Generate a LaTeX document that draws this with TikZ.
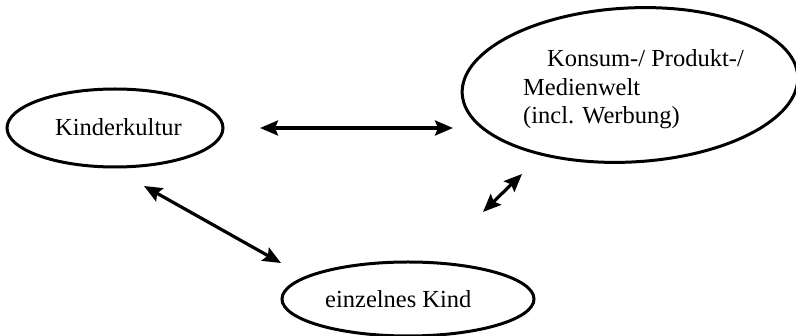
\documentclass[tikz,border=0pt]{standalone}
\usepackage{fontspec}
\setmainfont{Liberation Serif}
\usetikzlibrary{shapes.geometric,arrows.meta}
\begin{document}
\begin{tikzpicture}[x=1pt,y=-1pt,
  ell/.style={draw,ellipse,line width=3pt,inner sep=0pt},
  lbl/.style={anchor=base west,inner sep=0pt,font=\fontsize{24.5}{28}\selectfont},
  dbl/.style={line width=3.2pt,{Stealth[length=18pt,width=15pt,inset=3pt]}-{Stealth[length=18pt,width=15pt,inset=3pt]}}]
\useasboundingbox (0,0) rectangle (796,336);
\node[ell,minimum width=216pt,minimum height=78pt] (kk) at (115,128) {};
\node[ell,minimum width=336pt,minimum height=154pt,rotate=3] (kw) at (630,85) {};
\node[ell,minimum width=252pt,minimum height=74pt] (ek) at (408,299) {};
\node[lbl] (t1) at (55,136) {Kinderkultur};
\node[lbl] (t2) at (547,67) {Konsum-/ Produkt-/};
\node[lbl] (t3) at (523,96) {Medienwelt};
\node[lbl] (t4) at (523,124) {(incl. Werbung)};
\node[lbl] (t5) at (325,308) {einzelnes Kind};
\coordinate (a1) at (260,128);
\coordinate (a2) at (453,128);
\coordinate (b1) at (144,186);
\coordinate (b2) at (281,263);
\coordinate (c1) at (483,212);
\coordinate (c2) at (522,174);
\draw[dbl] (a1) -- (a2);
\draw[dbl] (b1) -- (b2);
\draw[dbl] (c1) -- (c2);
\end{tikzpicture}
\end{document}
